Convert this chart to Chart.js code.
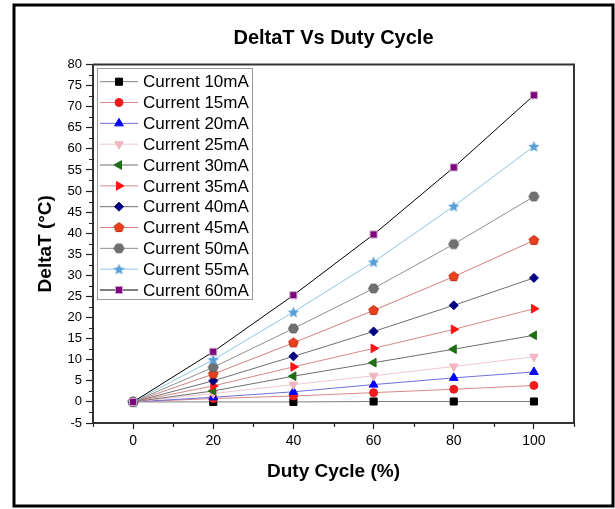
<!DOCTYPE html>
<html>
<head>
<meta charset="utf-8">
<script src="https://cdn.jsdelivr.net/npm/chart.js@4.4.0/dist/chart.umd.min.js"></script>
<style>
html, body { margin: 0; padding: 0; background: #fff; }
canvas { display: block; }
</style>
</head>
<body>
<canvas id="deltat_chart" width="615" height="509"></canvas>
<script>
var duty = [0, 20, 40, 60, 80, 100];
var xTicks = [0, 20, 40, 60, 80, 100];

var current10 = [0, 0, 0, 0.1, 0.1, 0.1];
var current15 = [0, 0.8, 1.4, 2.2, 3.0, 3.9];
var current20 = [0, 1.1, 2.4, 4.1, 5.7, 7.1];
var current25 = [0, 2.0, 4.1, 6.2, 8.4, 10.7];
var current30 = [0, 2.6, 6.1, 9.3, 12.5, 15.8];
var current35 = [0, 3.8, 8.3, 12.7, 17.2, 22.1];
var current40 = [0, 5.0, 10.8, 16.7, 22.9, 29.4];
var current45 = [0, 6.6, 14.0, 21.7, 29.7, 38.3];
var current50 = [0, 8.2, 17.4, 26.9, 37.4, 48.7];
var current55 = [0, 10.0, 21.3, 33.2, 46.4, 60.6];
var current60 = [0, 11.9, 25.3, 39.7, 55.6, 72.7];

var seriesLabels = ['Current 10mA', 'Current 15mA', 'Current 20mA', 'Current 25mA',
    'Current 30mA', 'Current 35mA', 'Current 40mA', 'Current 45mA',
    'Current 50mA', 'Current 55mA', 'Current 60mA'];
var seriesValues = [current10, current15, current20, current25, current30, current35,
    current40, current45, current50, current55, current60];

var FONT = "'Liberation Sans', Arial, sans-serif";

// marker pictures for shapes chart.js does not have
function polygonMarker(sides, r, rot, fill, stroke) {
    var c = document.createElement('canvas');
    var s = Math.ceil(r * 2 + 3);
    c.width = s; c.height = s;
    var g = c.getContext('2d');
    g.beginPath();
    for (var i = 0; i < sides; i++) {
        var a = rot + i * 2 * Math.PI / sides;
        var px = s / 2 + r * Math.sin(a), py = s / 2 - r * Math.cos(a);
        if (i == 0) g.moveTo(px, py); else g.lineTo(px, py);
    }
    g.closePath();
    g.fillStyle = fill; g.fill();
    g.strokeStyle = stroke; g.lineWidth = 1; g.stroke();
    return c;
}
function starMarker(r, fill) {
    var c = document.createElement('canvas');
    var s = Math.ceil(r * 2 + 3);
    c.width = s; c.height = s;
    var g = c.getContext('2d');
    g.beginPath();
    for (var i = 0; i < 10; i++) {
        var a = i * Math.PI / 5;
        var rr = i % 2 == 0 ? r : r * 0.45;
        var px = s / 2 + rr * Math.sin(a), py = s / 2 + 0.5 - rr * Math.cos(a);
        if (i == 0) g.moveTo(px, py); else g.lineTo(px, py);
    }
    g.closePath();
    g.fillStyle = fill; g.fill();
    return c;
}

var pentagon = polygonMarker(5, 5, 0, '#e8401c', '#c02a10');
var hexagon = polygonMarker(6, 5, Math.PI / 6, '#707070', '#5a5a5a');
var star = starMarker(6, '#5a9fd8');

// per series look: marker, marker colour, line colour
var looks = [
    { style: 'rect', radius: 5, rotation: 0, fill: '#000000', line: '#808080' },
    { style: 'circle', radius: 4, rotation: 0, fill: '#ee1c1c', line: '#d98888' },
    { style: 'triangle', radius: 5, rotation: 0, fill: '#0000ff', line: '#7070d8' },
    { style: 'triangle', radius: 5, rotation: 180, fill: '#f2b6c2', line: '#f0c6ce' },
    { style: 'triangle', radius: 5, rotation: -90, fill: '#1e6e14', line: '#707070' },
    { style: 'triangle', radius: 5, rotation: 90, fill: '#ff1414', line: '#d48a8a' },
    { style: 'rectRot', radius: 4.5, rotation: 0, fill: '#000080', line: '#707070' },
    { style: pentagon, radius: 5, rotation: 0, fill: '#e8401c', line: '#d48080' },
    { style: hexagon, radius: 5, rotation: 0, fill: '#707070', line: '#909090' },
    { style: star, radius: 6, rotation: 0, fill: '#5a9fd8', line: '#8cc6e2' },
    { style: 'rect', radius: 5, rotation: 0, fill: '#800080', line: '#000000' }
];

var datasets = seriesValues.map(function(values, i) {
    var lk = looks[i];
    return {
        label: seriesLabels[i],
        data: duty.map(function(d, j) { return { x: d, y: values[j] }; }),
        borderColor: lk.line,
        borderWidth: 1,
        backgroundColor: lk.fill,
        pointStyle: lk.style,
        pointRadius: lk.radius,
        pointRotation: lk.rotation,
        pointBackgroundColor: lk.fill,
        pointBorderColor: i == 10 ? '#c8a8c8' : lk.fill,
        pointBorderWidth: 1,
        tension: 0,
        order: seriesValues.length - i
    };
});

var decor = {
    id: 'decor',
    beforeDraw: function(chart) {
        var ctx = chart.ctx;
        ctx.save();
        ctx.fillStyle = '#fff';
        ctx.fillRect(0, 0, chart.width, chart.height);
        ctx.strokeStyle = '#000';
        ctx.lineWidth = 3;
        ctx.strokeRect(14, 5, 599, 501);
        ctx.restore();
    },
    afterDraw: function(chart) {
        var ctx = chart.ctx, a = chart.chartArea;
        var xs = chart.scales.x, ys = chart.scales.y;
        ctx.save();
        // top and right sides of the plot box
        ctx.strokeStyle = '#333';
        ctx.lineWidth = 2;
        ctx.beginPath();
        ctx.moveTo(a.left, a.top); ctx.lineTo(a.right, a.top); ctx.lineTo(a.right, a.bottom);
        ctx.stroke();
        // minor ticks
        ctx.lineWidth = 1.2;
        ctx.strokeStyle = '#222';
        ctx.beginPath();
        for (var v = -2.5; v < 80; v += 5) {
            var py = Math.round(ys.getPixelForValue(v)) + 0.5;
            ctx.moveTo(a.left - 4, py); ctx.lineTo(a.left, py);
        }
        for (var u = -10; u <= 110; u += 20) {
            var px = Math.round(xs.getPixelForValue(u)) + 0.5;
            ctx.moveTo(px, a.bottom); ctx.lineTo(px, a.bottom + 4);
        }
        ctx.stroke();

        // legend
        var bx = 97.5, by = 68.5, bw = 155, bh = 231;
        ctx.fillStyle = '#fff';
        ctx.fillRect(bx, by, bw, bh);
        ctx.strokeStyle = '#999';
        ctx.lineWidth = 1;
        ctx.strokeRect(bx, by, bw, bh);
        ctx.font = '17px ' + FONT;
        ctx.textBaseline = 'middle';
        ctx.textAlign = 'left';
        chart.data.datasets.forEach(function(ds, i) {
            var y = 81.7 + i * 20.83;
            ctx.strokeStyle = ds.borderColor;
            ctx.lineWidth = 1;
            ctx.beginPath();
            ctx.moveTo(100, y); ctx.lineTo(138, y);
            ctx.stroke();
            ctx.fillStyle = ds.pointBackgroundColor;
            ctx.strokeStyle = ds.pointBorderColor;
            Chart.helpers.drawPoint(ctx, {
                pointStyle: ds.pointStyle, radius: ds.pointRadius,
                rotation: ds.pointRotation, borderWidth: 1
            }, 119, y);
            ctx.fillStyle = '#000';
            ctx.fillText(ds.label, 143, y + 1);
        });
        ctx.restore();
    }
};

var ctx = document.getElementById('deltat_chart');
var chart = new Chart(ctx, {
    type: 'line',
    data: { datasets: datasets },
    options: {
        responsive: false,
        animation: false,
        layout: { padding: { left: 14, right: 41, top: 0, bottom: 0 } },
        plugins: {
            legend: { display: false },
            tooltip: { enabled: false },
            title: {
                display: true,
                text: 'DeltaT Vs Duty Cycle',
                fullSize: false,
                color: '#000',
                font: { family: FONT, size: 20, weight: 'bold' },
                padding: { top: 26, bottom: 14.5 }
            }
        },
        scales: {
            x: {
                type: 'linear',
                min: -10,
                max: 110,
                afterBuildTicks: function(s) {
                    s.ticks = xTicks.map(function(v) { return { value: v }; });
                },
                afterFit: function(s) { s.height = 86; },
                ticks: { color: '#000', font: { family: FONT, size: 14 }, padding: 4, maxRotation: 0 },
                grid: { drawOnChartArea: false, drawTicks: true, tickLength: 6, color: '#222', tickWidth: 1.2 },
                border: { display: true, color: '#333', width: 2 },
                title: {
                    display: true, text: 'Duty Cycle (%)', color: '#000',
                    font: { family: FONT, size: 19, weight: 'bold' },
                    padding: { top: 0, bottom: 25.6 }
                }
            },
            y: {
                type: 'linear',
                min: -5,
                max: 80,
                afterFit: function(s) { s.width = 79; },
                ticks: { stepSize: 5, color: '#000', font: { family: FONT, size: 13 }, padding: 4 },
                grid: { drawOnChartArea: false, drawTicks: true, tickLength: 7, color: '#222', tickWidth: 1.2 },
                border: { display: true, color: '#333', width: 2 },
                title: {
                    display: true, text: 'DeltaT (°C)', color: '#000',
                    font: { family: FONT, size: 19, weight: 'bold' },
                    padding: { top: 20, bottom: 0 }
                }
            }
        }
    },
    plugins: [decor]
});
</script>
</body>
</html>
